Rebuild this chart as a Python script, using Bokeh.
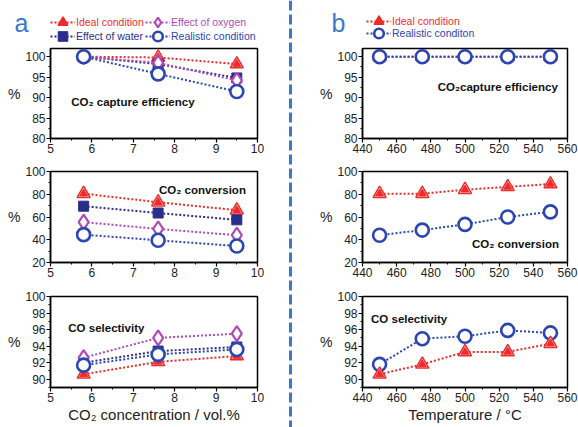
from bokeh.plotting import figure
from bokeh.models import Legend, LegendItem, Label, Span, FixedTicker, LinearAxis
from bokeh.layouts import row, column
from bokeh.embed import file_html
from bokeh.resources import INLINE

# ---------------- data ----------------
conc = [5.8, 7.6, 9.5]
cap_ideal = [100, 99.8, 98.2]
cap_water = [100, 98.2, 94.8]
cap_oxygen = [100, 98.5, 94.2]
cap_real = [100, 95.8, 91.5]
conv_ideal = [80.5, 73.0, 66.0]
conv_water = [69.5, 63.5, 57.5]
conv_oxygen = [55.5, 49.5, 44.0]
conv_real = [44.5, 39.5, 34.5]
sel_ideal = [90.6, 92.1, 92.8]
sel_water = [92.0, 93.4, 93.9]
sel_oxygen = [92.6, 95.0, 95.5]
sel_real = [91.7, 93.0, 93.6]

temp = [450, 475, 500, 525, 550]
tcap_ideal = [100, 100, 100, 100, 100]
tcap_real = [100, 100, 100, 100, 100]
tconv_ideal = [80.5, 80.5, 84.0, 86.5, 89.0]
tconv_real = [44.0, 48.5, 53.5, 60.0, 64.5]
tsel_ideal = [90.6, 91.8, 93.3, 93.3, 94.3]
tsel_real = [91.8, 94.9, 95.2, 95.9, 95.6]

left_legend = ["Ideal condition", "Effect of oxygen", "Effect of water", "Realistic condition"]
right_legend = ["Ideal condition", "Realistic conditon"]

RED = "#ee2b2b"
MAG = "#b04bb6"
NAVY = "#2b2d8a"
BLUE = "#2b46b0"
LBLUE = "#3b78cc"
FONT = "Liberation Sans"


def make_fig(w, h, bl, br, bt, bb, xr, yr, xt, xmt, yt, ymt, xlabel=None):
    p = figure(width=w, height=h, x_range=xr, y_range=yr,
               toolbar_location=None, output_backend="svg",
               min_border_left=bl, min_border_right=br,
               min_border_top=bt, min_border_bottom=bb)
    p.xgrid.visible = False
    p.ygrid.visible = False
    p.outline_line_color = "black"
    p.outline_line_width = 1.5
    p.outline_line_alpha = 1
    p.xaxis.ticker = FixedTicker(ticks=xt, minor_ticks=xmt)
    p.yaxis.ticker = FixedTicker(ticks=yt, minor_ticks=ymt)
    for ax in (p.xaxis[0], p.yaxis[0]):
        ax.axis_line_width = 1.5
        ax.axis_line_color = "black"
        ax.major_tick_in = 0
        ax.major_tick_out = 4
        ax.minor_tick_in = 0
        ax.minor_tick_out = 2
        ax.major_tick_line_width = 1.2
        ax.minor_tick_line_width = 1
        ax.major_label_text_font = FONT
        ax.major_label_text_font_size = "12px"
        ax.major_label_text_color = "#222222"
        ax.major_label_standoff = 1
        ax.axis_label_text_font = FONT
        ax.axis_label_text_font_style = "normal"
        ax.axis_label_text_color = "#222222"
    p.yaxis.axis_label = "%"
    p.yaxis.axis_label_orientation = "horizontal"
    p.yaxis.axis_label_text_font_size = "14px"
    p.yaxis.axis_label_standoff = 2
    if xlabel:
        p.xaxis.axis_label = xlabel
        p.xaxis.axis_label_text_font_size = "15px"
        p.xaxis.axis_label_standoff = 1
    return p


def series(p, x, y, kind):
    if kind == "ideal":
        r = [p.line(x, y, line_color=RED, line_width=2, line_dash="2 2"),
             p.scatter(x, y, marker="triangle", size=13, fill_color="white",
                       line_color=RED, line_width=1.5),
             p.scatter(x, y, marker="triangle", size=8, fill_color=RED,
                       line_color=RED, line_width=1)]
    elif kind == "oxygen":
        r = [p.line(x, y, line_color=MAG, line_width=2, line_dash="2 2"),
             p.scatter(x, y, marker="diamond", size=15, fill_color="white",
                       line_color=MAG, line_width=2.2)]
    elif kind == "water":
        r = [p.line(x, y, line_color=NAVY, line_width=2, line_dash="2 2"),
             p.scatter(x, y, marker="square", size=10, fill_color=NAVY,
                       line_color=NAVY, line_width=1)]
    else:
        r = [p.line(x, y, line_color=BLUE, line_width=2, line_dash="2 2"),
             p.scatter(x, y, marker="circle", size=13, fill_color="white",
                       line_color=BLUE, line_width=2.6)]
    return r


def add_legend(p, label, x, y, kind, color, loc):
    # renderers lie outside the header's ranges: only their legend samples show
    rends = series(p, x, y, kind)
    lg = Legend(items=[LegendItem(label=label, renderers=rends)], location=loc,
                orientation="horizontal", padding=0, margin=0, spacing=0,
                border_line_alpha=0, background_fill_alpha=0,
                glyph_width=25, glyph_height=24, label_height=12,
                label_standoff=1, label_text_font=FONT,
                label_text_font_size="10.5px", label_text_color=color)
    p.add_layout(lg, "center")


def header(w, h, bl, br, letter, standoff):
    p = figure(width=w, height=h, x_range=(0, 1), y_range=(0, 1),
               toolbar_location=None, output_backend="svg",
               min_border_left=bl, min_border_right=br,
               min_border_top=0, min_border_bottom=0,
               x_axis_type=None, y_axis_type=None)
    p.xgrid.visible = False
    p.ygrid.visible = False
    p.outline_line_alpha = 0
    ax = LinearAxis(ticker=FixedTicker(ticks=[]), axis_line_alpha=0,
                    major_tick_line_alpha=0, minor_tick_line_alpha=0,
                    major_tick_out=0, minor_tick_out=0,
                    axis_label=letter, axis_label_orientation="horizontal",
                    axis_label_text_font=FONT, axis_label_text_font_size="25px",
                    axis_label_text_font_style="normal",
                    axis_label_text_color=LBLUE, axis_label_standoff=standoff)
    p.add_layout(ax, "left")
    return p


def note(p, x, y, text, align="left"):
    p.add_layout(Label(x=x, y=y, text=text, text_font=FONT, text_font_size="11.5px",
                       text_font_style="bold", text_color="#111111", text_align=align,
                       text_baseline="alphabetic"))


LW, RW = 287, 285
HH, H1, H2, H3 = 44, 116, 124, 143
LX = dict(xr=(5, 10), xt=[5, 6, 7, 8, 9, 10], xmt=[5.5, 6.5, 7.5, 8.5, 9.5])
RX = dict(xr=(440, 560), xt=[440, 460, 480, 500, 520, 540, 560],
          xmt=[450, 470, 490, 510, 530, 550])
Y1 = dict(yr=(80, 102), yt=[80, 85, 90, 95, 100], ymt=[82.5, 87.5, 92.5, 97.5])
Y2 = dict(yr=(20, 100), yt=[20, 40, 60, 80, 100], ymt=[30, 50, 70, 90])
Y3 = dict(yr=(89, 100), yt=[90, 92, 94, 96, 98, 100], ymt=[89, 91, 93, 95, 97, 99])

# ---------- panel a ----------
ha = header(LW, HH, 50, 30, "a", 22)
add_legend(ha, left_legend[0], conc, cap_ideal, "ideal", RED, (0, 10))
add_legend(ha, left_legend[1], conc, cap_oxygen, "oxygen", MAG, (95, 10))
add_legend(ha, left_legend[2], conc, cap_water, "water", NAVY, (0, -4))
add_legend(ha, left_legend[3], conc, cap_real, "real", BLUE, (95, -4))

a1 = make_fig(LW, H1, 50, 30, 4, 22, **LX, **Y1)
series(a1, conc, cap_ideal, "ideal")
series(a1, conc, cap_water, "water")
series(a1, conc, cap_oxygen, "oxygen")
series(a1, conc, cap_real, "real")
note(a1, 5.5, 89.0, "CO₂ capture efficiency")

a2 = make_fig(LW, H2, 50, 30, 11, 22, **LX, **Y2)
series(a2, conc, conv_ideal, "ideal")
series(a2, conc, conv_water, "water")
series(a2, conc, conv_oxygen, "oxygen")
series(a2, conc, conv_real, "real")
note(a2, 9.72, 83.3, "CO₂ conversion", align="right")

a3 = make_fig(LW, H3, 50, 30, 12, 40, **LX, **Y3, xlabel="CO₂ concentration / vol.%")
series(a3, conc, sel_ideal, "ideal")
series(a3, conc, sel_water, "water")
series(a3, conc, sel_oxygen, "oxygen")
series(a3, conc, sel_real, "real")
note(a3, 5.43, 96.2, "CO selectivity")

# ---------- panel b ----------
hb = header(RW, HH, 69, 11, "b", 17)
add_legend(hb, right_legend[0], temp, tcap_ideal, "ideal", RED, (4, 11))
add_legend(hb, right_legend[1], temp, tcap_real, "real", BLUE, (4, -1))

b1 = make_fig(RW, H1, 69, 11, 4, 22, **RX, **Y1)
series(b1, temp, tcap_ideal, "ideal")
series(b1, temp, tcap_real, "real")
note(b1, 484, 92.7, "CO₂capture efficiency")

b2 = make_fig(RW, H2, 69, 11, 11, 22, **RX, **Y2)
series(b2, temp, tconv_ideal, "ideal")
series(b2, temp, tconv_real, "real")
note(b2, 555, 36.7, "CO₂ conversion", align="right")

b3 = make_fig(RW, H3, 69, 11, 12, 40, **RX, **Y3, xlabel="Temperature / °C")
series(b3, temp, tsel_real, "real")
series(b3, temp, tsel_ideal, "ideal")
note(b3, 445, 97.3, "CO selectivity")

# ---------- separator ----------
sep = figure(width=6, height=HH + H1 + H2 + H3, x_range=(0, 1), y_range=(0, 1),
             toolbar_location=None, output_backend="svg", min_border=0,
             x_axis_type=None, y_axis_type=None)
sep.xgrid.visible = False
sep.ygrid.visible = False
sep.outline_line_alpha = 0
sep.add_layout(Span(location=0.5, dimension="height", line_color=LBLUE,
                    line_width=3, line_dash="10 4"))

layout = row(column(ha, a1, a2, a3), sep, column(hb, b1, b2, b3))
open("out.html", "w").write(file_html(layout, INLINE))
